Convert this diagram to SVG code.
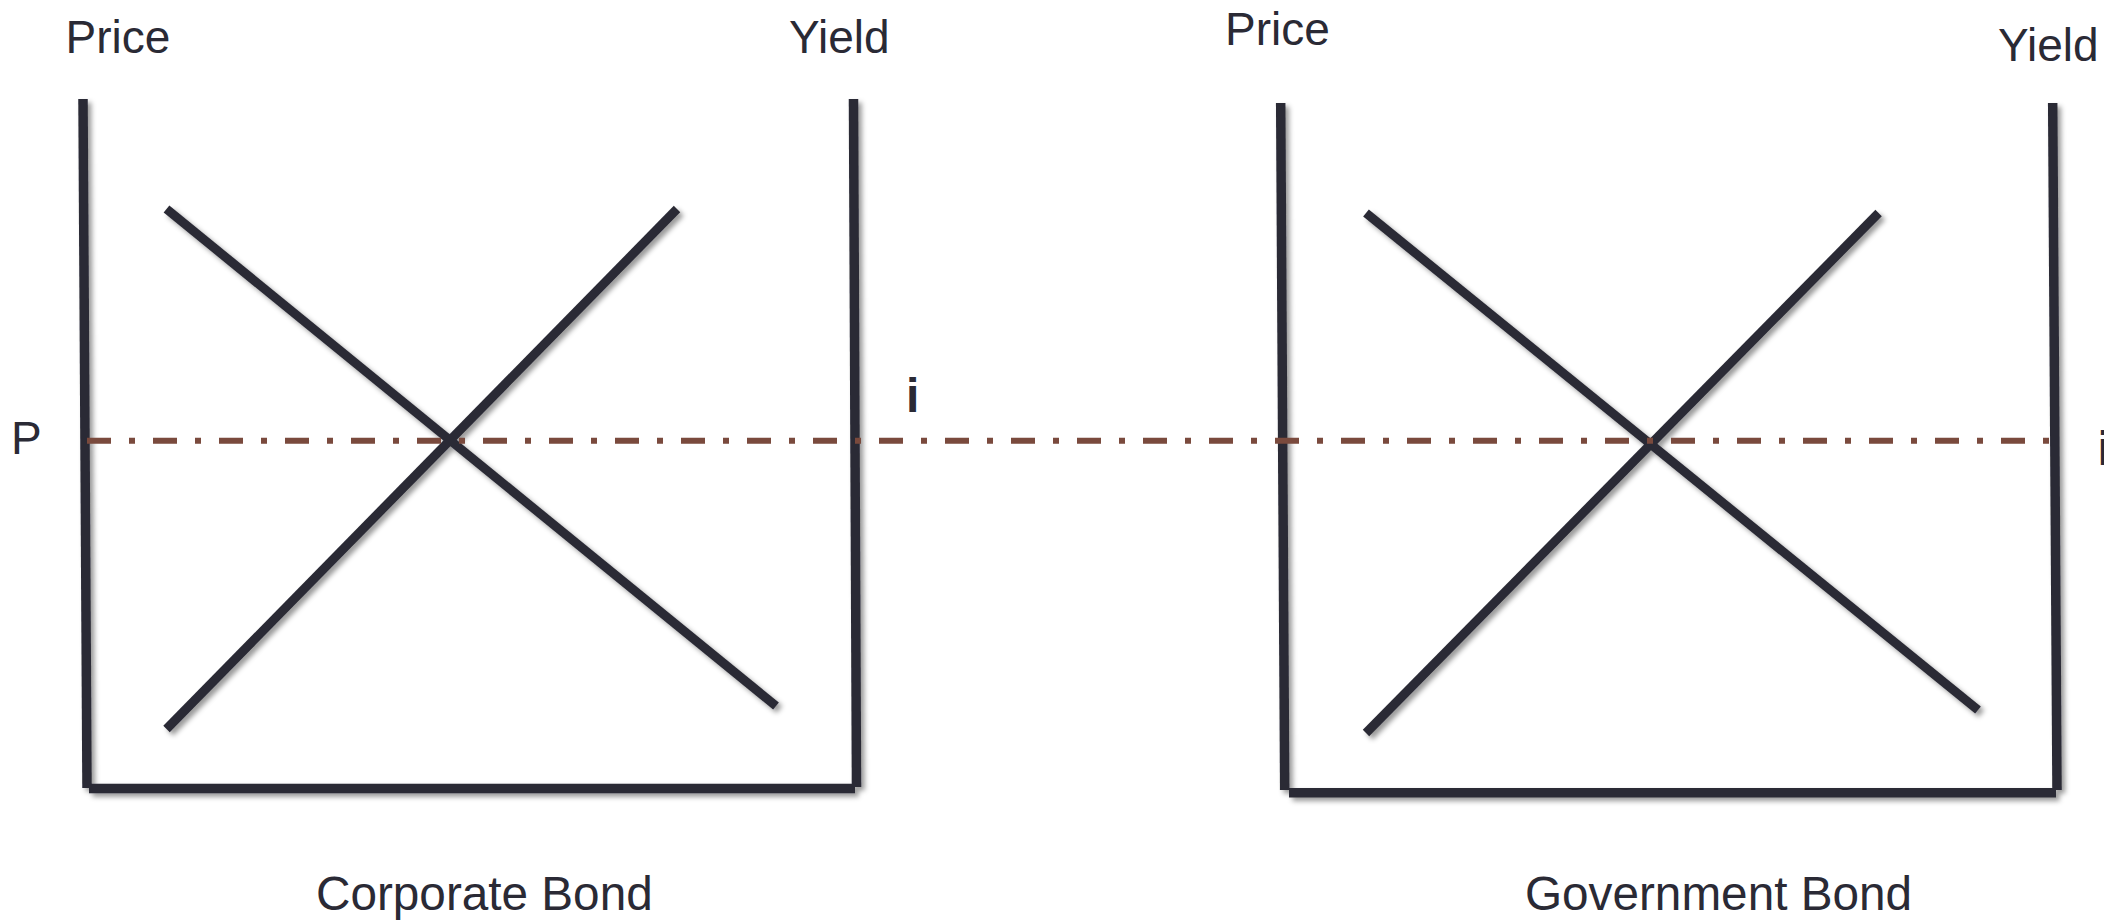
<svg xmlns="http://www.w3.org/2000/svg" width="2104" height="920" viewBox="0 0 2104 920">
  <style>
    .ax { stroke: #2a2a35; stroke-width: 9.5; fill: none; stroke-linecap: butt; }
    .cv { stroke: #2a2a35; stroke-width: 9; fill: none; stroke-linecap: butt; }
    .dash { stroke: #7a4a3d; stroke-width: 6; fill: none; stroke-dasharray: 24 18 6 18; }
    .lbl { font-family: "Liberation Sans", Arial, sans-serif; font-size: 46px; fill: #2a2a35; }
    .ttl { font-family: "Liberation Sans", Arial, sans-serif; font-size: 47.7px; fill: #2a2a35; }
    .ib { font-family: "Liberation Sans", Arial, sans-serif; font-size: 48px; font-weight: bold; fill: #2a2a35; }
  </style>
  <defs>
    <filter id="sh" x="-10%" y="-10%" width="120%" height="120%">
      <feDropShadow dx="3.5" dy="3.5" stdDeviation="2.5" flood-color="#000" flood-opacity="0.4"/>
    </filter>
  </defs>
  <rect width="2104" height="920" fill="#ffffff"/>

  <g id="corporate-bond" filter="url(#sh)">
    <line class="ax" x1="83" y1="99" x2="87" y2="788"/>
    <line class="ax" x1="853.5" y1="99" x2="856.5" y2="787"/>
    <line class="ax" x1="89" y1="788.5" x2="855" y2="788.5"/>
    <line class="cv" x1="166.5" y1="209" x2="776" y2="706"/>
    <line class="cv" x1="166.5" y1="729" x2="677" y2="209"/>
  </g>

  <g id="government-bond" filter="url(#sh)">
    <line class="ax" x1="1280.7" y1="103" x2="1284.7" y2="790"/>
    <line class="ax" x1="2052.7" y1="103" x2="2057" y2="790"/>
    <line class="ax" x1="1289" y1="792.7" x2="2056" y2="792.7"/>
    <line class="cv" x1="1366" y1="213" x2="1978" y2="710"/>
    <line class="cv" x1="1366" y1="733" x2="1878.6" y2="213"/>
  </g>

  <g id="connectors">
    <line class="dash" x1="87" y1="440.7" x2="2049" y2="440.7"/>
  </g>

  <g id="labels">
    <text class="lbl" x="65.5" y="52.7">Price</text>
    <text class="lbl" x="789" y="52.7">Yield</text>
    <text class="lbl" x="11" y="454">P</text>
    <text class="ib" x="906" y="411.7">i</text>
    <text class="ttl" x="316" y="910">Corporate Bond</text>
    <text class="lbl" x="1225" y="45">Price</text>
    <text class="lbl" x="1998" y="60.7">Yield</text>
    <text class="ib" x="2097.5" y="465">i</text>
    <text class="ttl" x="1525" y="910">Government Bond</text>
  </g>
</svg>
